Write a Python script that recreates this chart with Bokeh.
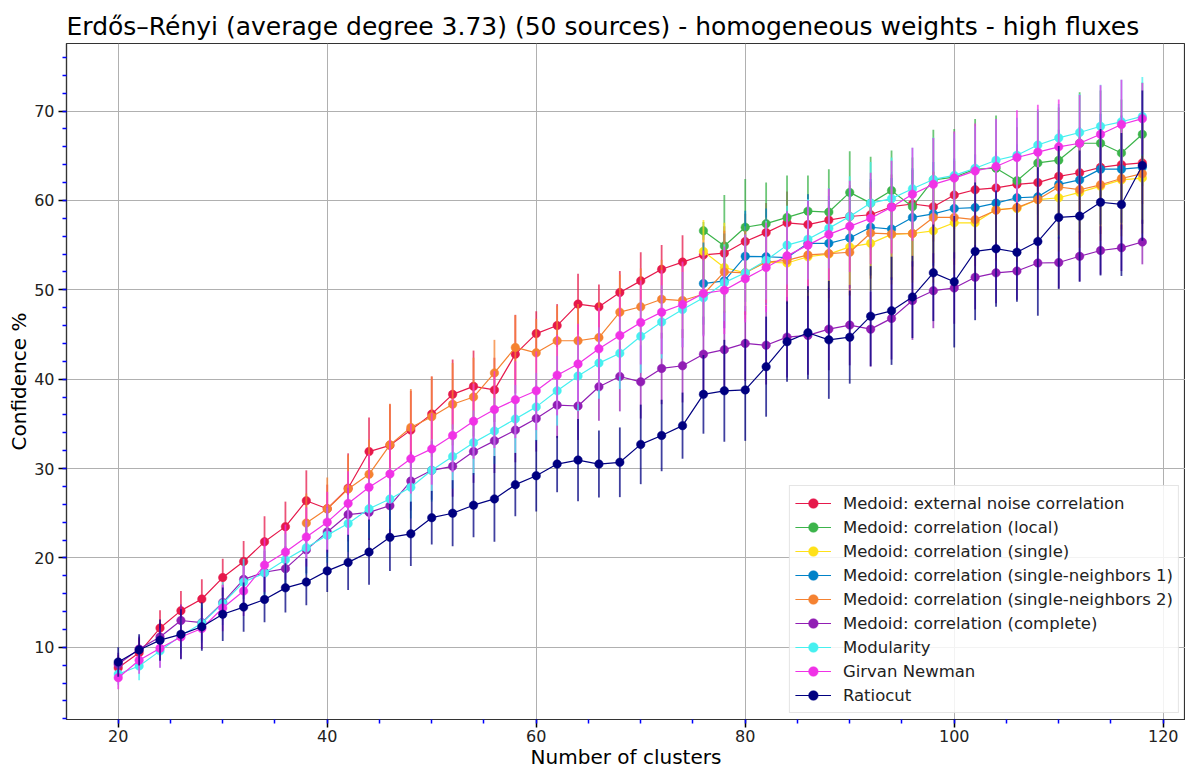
import math
from bokeh.plotting import figure
from bokeh.models import (ColumnDataSource, Range1d, SingleIntervalTicker, Legend, LegendItem)
from bokeh.embed import file_html
from bokeh.resources import INLINE

x_all = [20, 22, 24, 26, 28, 30, 32, 34, 36, 38, 40, 42, 44, 46, 48, 50, 52, 54, 56, 58,
         60, 62, 64, 66, 68, 70, 72, 74, 76, 78, 80, 82, 84, 86, 88, 90, 92, 94, 96, 98,
         100, 102, 104, 106, 108, 110, 112, 114, 116, 118]
x_from76 = x_all[28:]
x_from38 = x_all[9:]

ext_noise = [7.7, 9.4, 12.15, 14.1, 15.4, 17.8, 19.6, 21.8, 23.5, 26.4, 25.5, 27.8, 31.9, 32.6, 34.3,
             36.1, 38.3, 39.2, 38.8, 42.8, 45.1, 46.0, 48.4, 48.1, 49.7, 51.0, 52.3, 53.1, 53.9, 54.1,
             55.4, 56.4, 57.5, 57.3, 57.8, 58.2, 58.4, 59.3, 59.6, 59.3, 60.6, 61.2, 61.4, 61.8, 62.0,
             62.7, 63.1, 63.7, 64.0, 64.2]
ext_noise_err = [1.4, 1.6, 2.0, 2.2, 2.2, 2.1, 2.3, 2.85, 2.8, 3.4, 2.7, 3.9, 3.8, 4.6, 4.4, 4.2, 3.9,
                 4.0, 3.6, 4.4, 2.5, 2.4, 3.4, 2.5, 2.4, 3.2, 2.7, 3.0, 3.2, 3.0, 3.1, 3.3, 3.5, 3.4,
                 3.6, 3.5, 3.7, 3.6, 3.8, 3.9, 3.8, 4.0, 4.1, 4.0, 4.2, 4.3, 4.2, 4.4, 4.5, 4.6]

local = [56.6, 54.9, 57.0, 57.4, 58.1, 58.8, 58.7, 60.9, 59.7, 61.1, 59.3, 62.3, 62.6, 63.5, 63.6,
         62.2, 64.2, 64.5, 66.4, 66.4, 65.3, 67.4]
local_err = [1.0, 5.7, 5.4, 4.6, 4.7, 4.0, 4.8, 4.6, 5.2, 4.5, 5.5, 5.6, 5.4, 5.6, 5.9, 6.0, 5.8,
             5.9, 5.7, 5.9, 6.0, 5.8]

single = [54.3, 52.5, 51.9, 53.1, 53.0, 53.7, 54.0, 54.8, 55.2, 56.2, 56.3, 56.6, 57.5, 57.5, 59.0,
          59.1, 60.1, 60.3, 60.9, 61.6, 62.3, 62.5]
single_err = [3.5, 5.0, 5.2, 5.0, 5.3, 5.1, 5.4, 5.5, 5.3, 5.6, 5.5, 5.8, 5.7, 5.9, 5.8, 6.0, 6.1,
              6.0, 6.2, 6.1, 6.3, 6.2]

sn1 = [50.7, 51.0, 53.75, 53.7, 53.6, 55.2, 55.2, 55.8, 57.0, 56.8, 58.1, 58.5, 59.1, 59.2, 59.7,
       60.3, 60.4, 61.8, 62.3, 63.5, 63.5, 63.7]
sn1_err = [4.6, 5.3, 5.1, 5.4, 5.2, 5.5, 5.3, 5.6, 5.4, 5.7, 5.5, 5.8, 5.6, 5.9, 5.7, 6.0, 5.8,
           6.1, 5.9, 6.2, 6.0, 6.3]

sn2 = [23.9, 25.5, 27.7, 29.35, 32.65, 34.6, 35.8, 37.2, 38.0, 40.7, 43.55, 42.95, 44.3, 44.3,
       44.65, 47.5, 48.1, 48.95, 48.8, 49.5, 52.0, 51.9, 53.1, 53.3, 53.9, 54.05, 54.2, 56.35,
       56.25, 56.3, 58.1, 58.1, 57.85, 58.9, 59.2, 60.1, 61.5, 61.2, 61.75, 62.45, 63.0]
sn2_err = [3.3, 3.5, 3.8, 3.9, 4.6, 4.3, 4.5, 4.6, 4.4, 3.7, 3.6, 3.8, 3.9, 4.1, 4.0, 4.2, 4.3,
           4.4, 4.2, 4.5, 4.6, 4.7, 4.6, 4.8, 4.9, 5.0, 4.8, 5.1, 5.0, 5.2, 5.1, 5.3, 5.2, 5.4,
           5.3, 5.5, 5.4, 5.6, 5.5, 5.7, 5.6]

complete = [8.1, 9.8, 11.15, 13.0, 12.75, 15.0, 17.6, 18.4, 18.8, 20.9, 22.9, 24.85, 25.1, 25.85,
            28.6, 29.8, 30.25, 31.9, 33.1, 34.3, 35.6, 37.1, 37.0, 39.15, 40.3, 39.7, 41.2, 41.5,
            42.8, 43.3, 44.0, 43.8, 44.7, 44.9, 45.6, 46.05, 45.6, 46.8, 48.8, 49.9, 50.2, 51.4,
            51.9, 52.1, 53.0, 53.05, 53.75, 54.4, 54.7, 55.35]
complete_err = [1.3, 1.4, 1.6, 1.8, 2.0, 2.0, 2.2, 2.4, 2.5, 2.6, 2.8, 3.0, 3.1, 3.2, 3.3, 3.3, 3.4,
                3.5, 3.6, 3.6, 3.7, 3.7, 3.8, 3.8, 3.9, 4.1, 4.0, 4.1, 4.2, 4.3, 4.2, 4.4, 4.5, 4.4,
                4.6, 4.5, 4.2, 4.6, 4.4, 4.2, 4.0, 3.6, 3.4, 3.2, 3.0, 2.9, 2.8, 2.7, 2.6, 2.5]

modularity = [7.0, 7.9, 9.6, 11.3, 12.7, 14.9, 17.3, 18.3, 19.8, 21.15, 22.55, 23.85, 25.5, 26.6,
              27.9, 29.8, 31.35, 32.9, 34.2, 35.55, 36.9, 38.7, 40.35, 41.8, 42.9, 44.8, 46.4, 47.8,
              49.1, 50.8, 51.9, 53.3, 55.0, 55.65, 56.9, 58.2, 59.7, 60.2, 61.3, 62.35, 62.8, 63.6,
              64.5, 65.05, 66.2, 67.0, 67.6, 68.3, 68.8, 69.4]
modularity_err = [1.2, 1.6, 1.9, 2.0, 2.2, 2.4, 2.6, 2.7, 2.9, 3.0, 3.1, 3.2, 3.3, 3.4, 3.5, 3.5,
                  3.6, 3.6, 3.7, 3.8, 3.8, 3.9, 3.9, 4.0, 4.0, 4.1, 4.1, 4.2, 4.2, 4.3, 4.3, 4.4,
                  4.4, 4.5, 4.5, 4.5, 4.6, 4.6, 4.6, 4.7, 4.7, 4.7, 4.6, 4.2, 4.0, 3.8, 4.3, 4.65,
                  4.7, 4.4]

girvan = [6.6, 8.55, 9.9, 11.15, 12.1, 14.4, 16.3, 19.2, 20.65, 22.35, 24.0, 26.1, 27.9, 29.4, 31.1,
          32.2, 33.7, 35.3, 36.6, 37.7, 38.7, 40.45, 41.7, 43.4, 44.9, 46.35, 47.5, 48.35, 49.6,
          49.95, 51.25, 52.5, 53.8, 55.0, 56.2, 57.1, 58.0, 59.25, 60.7, 61.8, 62.5, 63.3, 63.8,
          64.8, 65.4, 66.0, 66.4, 67.4, 68.5, 69.15]
girvan_err = [1.3, 1.5, 2.2, 2.4, 2.3, 2.6, 2.8, 3.0, 3.1, 3.3, 3.4, 3.6, 3.7, 3.8, 3.9, 4.0, 4.1,
              4.2, 4.3, 4.3, 4.4, 4.5, 4.5, 4.6, 4.6, 4.7, 4.7, 4.8, 4.8, 4.9, 4.9, 5.0, 5.0, 5.0,
              5.1, 5.1, 5.1, 5.2, 5.2, 5.2, 5.2, 5.3, 5.3, 5.3, 5.3, 5.3, 5.4, 5.5, 5.0, 4.0]

ratiocut = [8.35, 9.7, 10.8, 11.45, 12.3, 13.7, 14.5, 15.35, 16.65, 17.3, 18.55, 19.5, 20.65, 22.3,
            22.7, 24.5, 25.0, 25.9, 26.6, 28.2, 29.2, 30.5, 30.95, 30.5, 30.7, 32.7, 33.7, 34.8,
            38.3, 38.7, 38.8, 41.4, 44.2, 45.2, 44.4, 44.7, 47.05, 47.65, 49.2, 51.9, 50.9, 54.3,
            54.6, 54.2, 55.4, 58.1, 58.25, 59.8, 59.55, 63.9]
ratiocut_err = [1.65, 1.75, 2.3, 2.8, 2.7, 3.0, 2.75, 2.55, 2.75, 2.6, 2.35, 3.1, 3.65, 3.75, 3.6,
                3.0, 3.7, 3.6, 4.8, 3.55, 4.0, 3.15, 4.6, 3.75, 3.9, 4.45, 4.0, 3.7, 4.4, 5.7, 5.7,
                5.6, 4.5, 5.2, 6.6, 5.2, 5.6, 6.05, 4.6, 5.4, 7.35, 7.7, 6.5, 5.55, 8.3, 8.0, 7.35,
                8.2, 8.0, 8.4]

labels = ["Medoid: external noise correlation", "Medoid: correlation (local)",
          "Medoid: correlation (single)", "Medoid: correlation (single-neighbors 1)",
          "Medoid: correlation (single-neighbors 2)", "Medoid: correlation (complete)",
          "Modularity", "Girvan Newman", "Ratiocut"]
colors = ["#e6194b", "#3cb44b", "#ffe119", "#0082c8", "#f58231", "#911eb4", "#46f0f0",
          "#f032e6", "#000080"]
series = [
    (x_all, ext_noise, ext_noise_err),
    (x_from76, local, local_err),
    (x_from76, single, single_err),
    (x_from76, sn1, sn1_err),
    (x_from38, sn2, sn2_err),
    (x_all, complete, complete_err),
    (x_all, modularity, modularity_err),
    (x_all, girvan, girvan_err),
    (x_all, ratiocut, ratiocut_err),
]

FONT = "DejaVu Sans"

p = figure(width=1185, height=771, output_backend="svg", toolbar_location=None,
           x_range=Range1d(15.05, 122.13), y_range=Range1d(1.92, 77.56),
           min_border_left=66, min_border_right=0, min_border_top=43, min_border_bottom=51,
           title="Erdős–Rényi (average degree 3.73) (50 sources) - homogeneous weights - high fluxes")
p.title.text_font = FONT
p.title.text_font_size = "25px"
p.title.text_font_style = "normal"
p.title.text_color = "black"
p.title.align = "left"
p.title.offset = 0
p.title.standoff = 6

p.background_fill_color = "white"
p.border_fill_color = "white"
p.outline_line_color = "#333333"
p.outline_line_width = 1.2

p.xaxis.ticker = SingleIntervalTicker(interval=20, num_minor_ticks=4)
p.yaxis.ticker = SingleIntervalTicker(interval=10, num_minor_ticks=5)
for ax in (p.xaxis[0], p.yaxis[0]):
    ax.axis_line_color = "#333333"
    ax.axis_line_width = 1.2
    ax.major_tick_line_color = "black"
    ax.major_tick_line_width = 1.5
    ax.major_tick_out = 8
    ax.major_tick_in = 0
    ax.minor_tick_line_color = "blue"
    ax.minor_tick_line_width = 1.5
    ax.minor_tick_out = 4
    ax.minor_tick_in = 0
    ax.major_label_text_font = FONT
    ax.major_label_text_font_size = "16px"
    ax.major_label_text_color = "#222222"
    ax.axis_label_text_font = FONT
    ax.axis_label_text_font_size = "20px"
    ax.axis_label_text_font_style = "normal"
    ax.axis_label_text_color = "black"
p.xaxis.axis_label = "Number of clusters"
p.yaxis.axis_label = "Confidence %"
p.xaxis.major_label_standoff = 2
p.yaxis.major_label_standoff = 4
p.xaxis.axis_label_standoff = 0
p.yaxis.axis_label_standoff = 0

p.xgrid.grid_line_color = "#b0b0b0"
p.ygrid.grid_line_color = "#b0b0b0"
p.xgrid.grid_line_width = 1
p.ygrid.grid_line_width = 1

items = []
for (xs, ys, es), col, lab in zip(series, colors, labels):
    src = ColumnDataSource(dict(x=xs, y=ys,
                                lo=[a - b for a, b in zip(ys, es)],
                                hi=[a + b for a, b in zip(ys, es)]))
    bars = p.segment(x0="x", y0="lo", x1="x", y1="hi", source=src,
                     line_color=col, line_width=1.8, line_alpha=0.75)
    ln = p.line("x", "y", source=src, line_color=col, line_width=1.2)
    mk = p.scatter("x", "y", source=src, size=8.5, fill_color=col, line_color=col, line_width=0.5)
    dummy = p.scatter(x=[], y=[], marker="dash", angle=math.pi / 2, size=10,
                      line_color=col, line_width=1.8, line_alpha=0.75)
    items.append(LegendItem(label=lab, renderers=[ln, dummy, mk]))

legend = Legend(items=items, location="bottom_right")
legend.label_text_font = FONT
legend.label_text_font_size = "16.5px"
legend.label_text_color = "#222222"
legend.glyph_width = 36
legend.glyph_height = 24
legend.label_height = 24
legend.spacing = 0
legend.padding = 5
legend.margin = 6
legend.label_standoff = 12
legend.background_fill_color = "white"
legend.background_fill_alpha = 0.85
legend.border_line_color = "#cccccc"
legend.border_line_width = 1
p.add_layout(legend)

open("out.html", "w").write(file_html(p, INLINE))
